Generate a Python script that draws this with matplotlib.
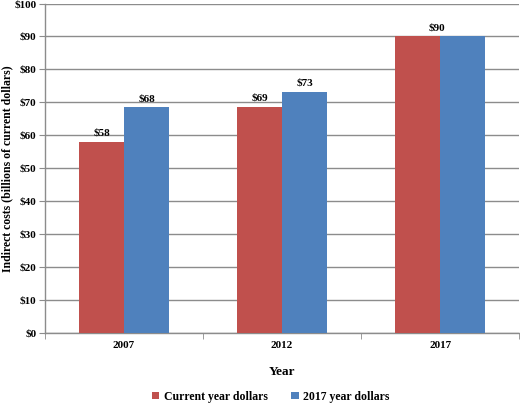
import matplotlib
matplotlib.use("Agg")
import matplotlib.pyplot as plt
import numpy as np

# Daten
years = ["2007", "2012", "2017"]
current_dollars = [58.1, 68.7, 90.0]
dollars_2017 = [68.5, 73.2, 90.0]
current_labels = ["$58", "$69", "$90"]
dollars_2017_labels = ["$68", "$73", ""]
y_ticks = list(range(0, 101, 10))

RED = "#C0504D"
BLUE = "#4F81BD"
GRID = "#8C8C8C"

plt.rcParams["font.family"] = ["Liberation Serif", "DejaVu Serif"]
plt.rcParams["font.weight"] = "bold"

fig = plt.figure(figsize=(5.2, 4.04), dpi=100)
ax = fig.add_axes([0.0865, 0.1757, 0.912, 0.8156])

x = np.arange(len(years))
w = 0.284
b1 = ax.bar(x - w / 2, current_dollars, w, color=RED, label="Current year dollars", zorder=3)
b2 = ax.bar(x + w / 2, dollars_2017, w, color=BLUE, label="2017 year dollars", zorder=3)

# Beschriftung der Balken
for i, (v, lab) in enumerate(zip(current_dollars, current_labels)):
    if i == len(years) - 1:
        # bei gleichen Werten nur ein Label in der Mitte
        ax.text(x[i] - 0.02, v + 1.2, lab, ha="center", va="bottom", fontsize=8, fontweight="bold")
    else:
        ax.text(x[i] - w / 2, v + 1.2, lab, ha="center", va="bottom", fontsize=8, fontweight="bold")
for i, (v, lab) in enumerate(zip(dollars_2017, dollars_2017_labels)):
    if lab:
        ax.text(x[i] + w / 2, v + 1.2, lab, ha="center", va="bottom", fontsize=8, fontweight="bold")

ax.set_xlim(-0.5, len(years) - 0.5)
ax.set_ylim(0, 100)
ax.set_yticks(y_ticks)
ax.set_yticklabels([f"${t}" for t in y_ticks], fontsize=8, fontweight="bold")
ax.set_xticks(x)
ax.set_xticklabels(years, fontsize=8, fontweight="bold")
ax.set_xticks(np.arange(-0.5, len(years)), minor=True)
ax.tick_params(axis="x", which="major", length=0, pad=6)
ax.tick_params(axis="x", which="minor", length=4, color=GRID)
ax.tick_params(axis="y", length=4, color=GRID, pad=2)

ax.yaxis.grid(True, color=GRID, linewidth=1.0, zorder=0)
ax.set_axisbelow(True)
for s in ["top", "right"]:
    ax.spines[s].set_visible(False)
for s in ["left", "bottom"]:
    ax.spines[s].set_color(GRID)
    ax.spines[s].set_linewidth(1.0)

ax.set_xlabel("Year", fontsize=9.5, fontweight="bold", labelpad=11)
ax.set_ylabel("Indirect costs (billions of current dollars)", fontsize=8.5, fontweight="bold")
ax.yaxis.set_label_coords(-0.066, 0.5)

fig.legend(handles=[b1, b2], loc="center", bbox_to_anchor=(0.521, 0.018), ncol=2,
           frameon=False, handlelength=0.6, handleheight=0.6,
           handletextpad=0.4, columnspacing=2.0, prop={"weight": "bold", "size": 8.5})

fig.savefig("out.png", dpi=100)
